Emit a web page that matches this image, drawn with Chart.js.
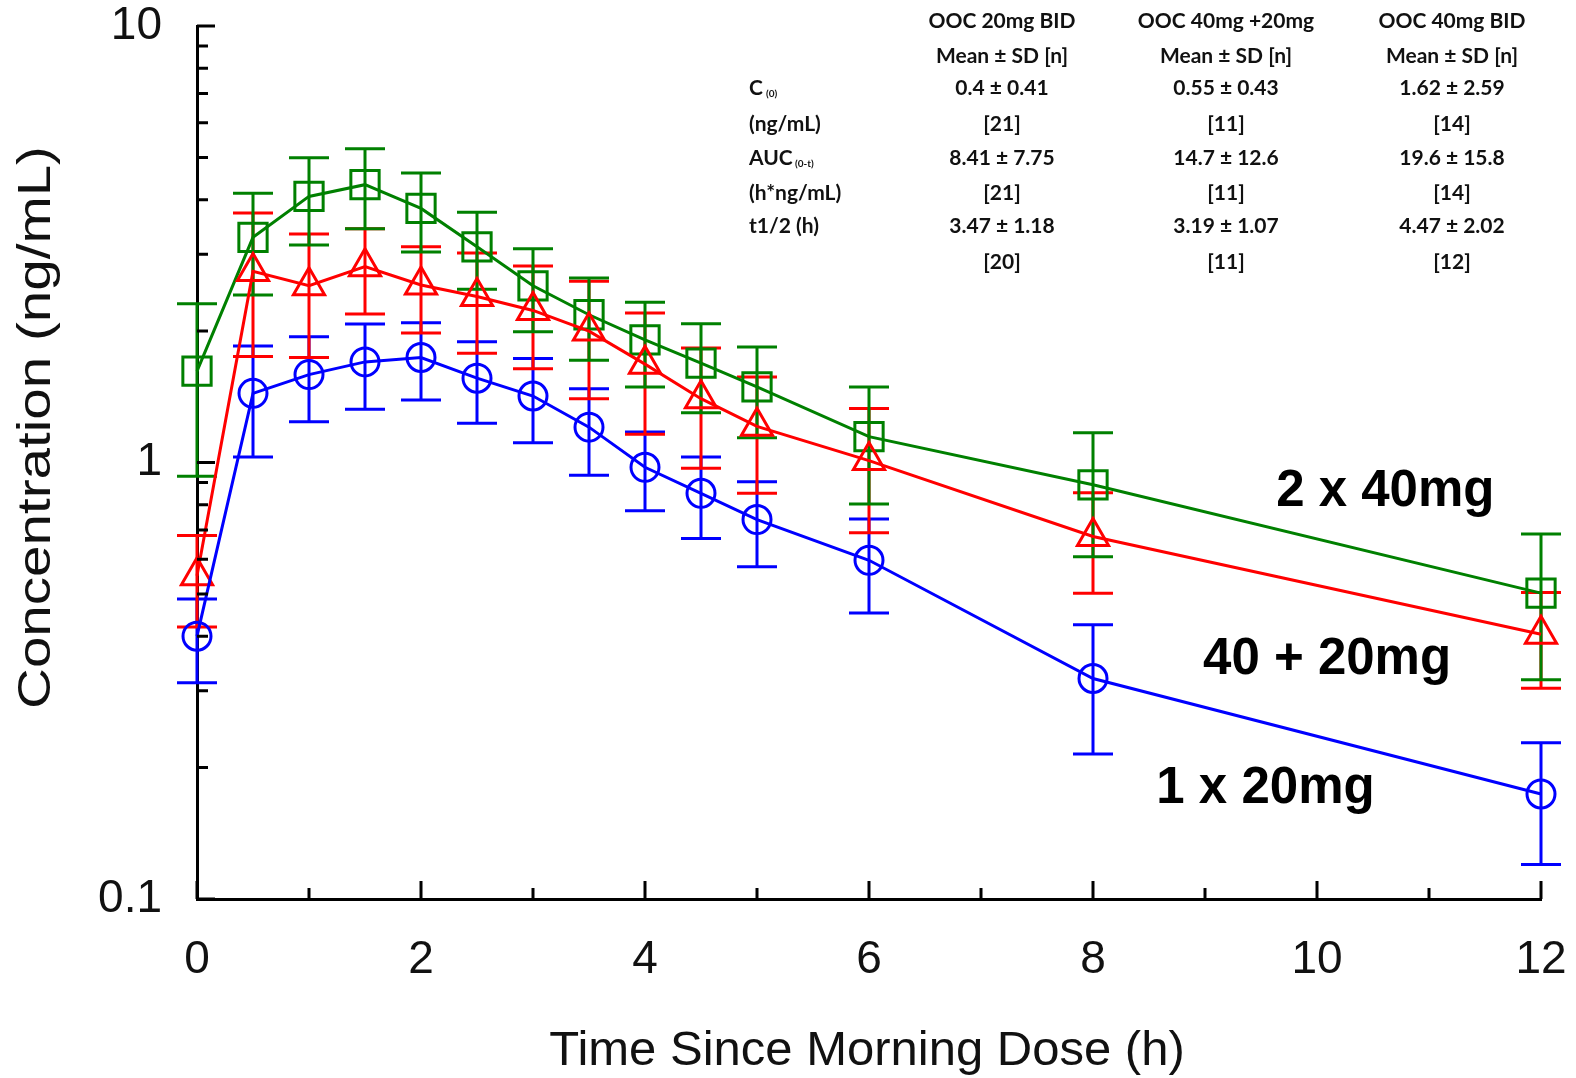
<!DOCTYPE html>
<html>
<head>
<meta charset="utf-8">
<script src="https://cdn.jsdelivr.net/npm/chart.js@4.4.0/dist/chart.umd.min.js"></script>
<style>
  html, body { margin: 0; padding: 0; background: #fff; }
  #wrap { width: 1576px; height: 1078px; }
</style>
</head>
<body>
<div id="wrap"><canvas id="chart" width="1576" height="1078"></canvas></div>
<script>
// Sampling times (h since morning dose)
const times = [0, 0.5, 1, 1.5, 2, 2.5, 3, 3.5, 4, 4.5, 5, 6, 8, 12];

// 1 x 20mg (blue circles): mean and SD (ng/mL)
const mean20 = [0.40, 1.44, 1.59, 1.70, 1.74, 1.56, 1.42, 1.205, 0.975, 0.85, 0.74, 0.597, 0.32, 0.174];
const sd20 = [0.087, 0.41, 0.35, 0.375, 0.35, 0.33, 0.31, 0.27, 0.20, 0.18, 0.163, 0.145, 0.105, 0.054];

// 40 + 20mg (red triangles)
const mean4020 = [0.55, 2.74, 2.54, 2.81, 2.55, 2.40, 2.23, 2.0, 1.68, 1.40, 1.21, 1.01, 0.677, 0.404];
const sd4020 = [0.13, 0.99, 0.80, 0.62, 0.57, 0.62, 0.59, 0.60, 0.52, 0.43, 0.36, 0.32, 0.175, 0.10];

// 2 x 40mg (green squares)
const mean40 = [1.62, 3.28, 4.07, 4.33, 3.82, 3.12, 2.54, 2.18, 1.91, 1.69, 1.49, 1.146, 0.889, 0.502];
const sd40 = [0.69, 0.86, 0.92, 0.90, 0.785, 0.626, 0.547, 0.465, 0.42, 0.39, 0.35, 0.343, 0.281, 0.184];

const seriesNames = ['1 x 20mg', '40 + 20mg', '2 x 40mg'];

// Axis ticks
const xTicks = [0, 2, 4, 6, 8, 10, 12];
const xMinorTicks = [1, 3, 5, 7, 9, 11];
const yTicks = [0.1, 1, 10];

// PK summary table
const tableCols = ['OOC 20mg BID', 'OOC 40mg +20mg', 'OOC 40mg BID'];
const c0Vals = ['0.4 \u00b1 0.41', '0.55 \u00b1 0.43', '1.62 \u00b1 2.59'];
const c0N = ['[21]', '[11]', '[14]'];
const aucVals = ['8.41 \u00b1 7.75', '14.7 \u00b1 12.6', '19.6 \u00b1 15.8'];
const aucN = ['[21]', '[11]', '[14]'];
const halfVals = ['3.47 \u00b1 1.18', '3.19 \u00b1 1.07', '4.47 \u00b1 2.02'];
const halfN = ['[20]', '[11]', '[12]'];

const FONT = '"Liberation Sans", Arial, sans-serif';

function toPoints(means) {
    return times.map((t, i) => ({ x: t, y: means[i] }));
}

function makeSet(name, means, sds, color, style, radius) {
    return {
        label: name,
        data: toPoints(means),
        sd: sds,
        borderColor: color,
        borderWidth: 3,
        pointStyle: style,
        pointRadius: radius,
        pointBorderWidth: 3,
        pointBorderColor: color,
        pointBackgroundColor: 'rgba(0,0,0,0)',
        tension: 0,
        clip: false
    };
}

// Error bars (mean +/- SD) drawn under the lines
const errorBars = {
    id: 'errorBars',
    beforeDatasetsDraw(chart) {
        const { ctx, scales: { x, y } } = chart;
        chart.data.datasets.forEach(ds => {
            ctx.save();
            ctx.strokeStyle = ds.borderColor;
            ctx.lineWidth = 3;
            ds.data.forEach((p, i) => {
                const px = x.getPixelForValue(p.x);
                const top = y.getPixelForValue(p.y + ds.sd[i]);
                const bot = y.getPixelForValue(Math.max(p.y - ds.sd[i], 0.01));
                ctx.beginPath();
                ctx.moveTo(px, top); ctx.lineTo(px, bot);
                ctx.moveTo(px - 20, top); ctx.lineTo(px + 20, top);
                ctx.moveTo(px - 20, bot); ctx.lineTo(px + 20, bot);
                ctx.stroke();
            });
            ctx.restore();
        });
    }
};

// Inward tick marks, axis titles, curve labels and the table
const decorations = {
    id: 'decorations',
    afterDraw(chart) {
        const { ctx, chartArea: a, scales: { x, y } } = chart;
        ctx.save();
        ctx.strokeStyle = '#000';
        ctx.lineWidth = 3;
        ctx.beginPath();
        xTicks.forEach(v => { const px = x.getPixelForValue(v); ctx.moveTo(px, a.bottom); ctx.lineTo(px, a.bottom - 18); });
        xMinorTicks.forEach(v => { const px = x.getPixelForValue(v); ctx.moveTo(px, a.bottom); ctx.lineTo(px, a.bottom - 11); });
        yTicks.forEach(v => { const py = y.getPixelForValue(v); ctx.moveTo(a.left, py); ctx.lineTo(a.left + 18, py); });
        [0.1, 1].forEach(d => {
            for (let k = 2; k <= 9; k++) {
                const py = y.getPixelForValue(d * k);
                ctx.moveTo(a.left, py); ctx.lineTo(a.left + 11, py);
            }
        });
        ctx.stroke();

        // axis titles
        ctx.fillStyle = '#111';
        ctx.font = '49px ' + FONT;
        ctx.textAlign = 'center';
        ctx.textBaseline = 'alphabetic';
        ctx.fillText('Time Since Morning Dose (h)', (a.left + a.right) / 2 - 2, a.bottom + 166);

        ctx.save();
        ctx.translate(37, (a.top + a.bottom) / 2 - 35);
        ctx.rotate(-Math.PI / 2);
        ctx.scale(1.23, 1);
        ctx.font = '46px ' + FONT;
        ctx.textBaseline = 'middle';
        ctx.fillText('Concentration (ng/mL)', 0, 0);
        ctx.restore();

        // curve labels
        ctx.font = 'bold 51px ' + FONT;
        ctx.fillStyle = '#000';
        ctx.textBaseline = 'middle';
        const labelAt = [[9.54, 0.179], [10.09, 0.353], [10.61, 0.856]];
        seriesNames.forEach((name, i) => {
            ctx.fillText(name, x.getPixelForValue(labelAt[i][0]), y.getPixelForValue(labelAt[i][1]));
        });

        // summary table
        const colX = [1002, 1226, 1452];
        const rowY = [21, 56, 88, 124, 158, 193, 226, 262];
        ctx.fillStyle = '#111';
        ctx.font = 'bold 21px Lato, "Open Sans", sans-serif';
        ctx.textAlign = 'center';
        const rows = [tableCols, tableCols.map(() => 'Mean \u00b1 SD [n]'), c0Vals, c0N, aucVals, aucN, halfVals, halfN];
        rows.forEach((row, r) => {
            row.forEach((txt, c) => ctx.fillText(txt, colX[c], rowY[r]));
        });

        ctx.textAlign = 'left';
        const lx = 749;
        ctx.fillText('C', lx, rowY[2]);
        ctx.fillText('(ng/mL)', lx, rowY[3]);
        ctx.fillText('AUC', lx, rowY[4]);
        ctx.fillText('(h*ng/mL)', lx, rowY[5]);
        ctx.fillText('t1/2 (h)', lx, rowY[6]);
        ctx.font = 'bold 10px Lato, "Open Sans", sans-serif';
        ctx.fillText('(0)', lx + 17, rowY[2] + 6);
        ctx.fillText('(0-t)', lx + 46, rowY[4] + 6);
        ctx.restore();
    }
};

new Chart(document.getElementById('chart').getContext('2d'), {
    type: 'line',
    data: {
        datasets: [
            makeSet(seriesNames[0], mean20, sd20, '#0000ff', 'circle', 14),
            makeSet(seriesNames[1], mean4020, sd4020, '#ff0000', 'triangle', 18),
            makeSet(seriesNames[2], mean40, sd40, '#008000', 'rect', 20)
        ]
    },
    options: {
        responsive: false,
        animation: false,
        layout: { padding: { top: 26, right: 35, left: 0, bottom: 0 } },
        plugins: { legend: { display: false }, tooltip: { enabled: false } },
        scales: {
            x: {
                type: 'linear',
                min: 0,
                max: 12,
                // fixed axis band, no extra label overflow padding
                afterFit(s) { s.height = 179; s.paddingLeft = 0; s.paddingRight = 0; },
                afterBuildTicks(s) { s.ticks = xTicks.map(v => ({ value: v })); },
                grid: { display: false },
                border: { display: true, color: '#000', width: 3 },
                ticks: { padding: 26, color: '#111', font: { size: 46, family: FONT }, maxRotation: 0 }
            },
            y: {
                type: 'logarithmic',
                min: 0.1,
                max: 10,
                afterFit(s) { s.width = 197; s.paddingTop = 0; s.paddingBottom = 0; },
                afterBuildTicks(s) { s.ticks = yTicks.map(v => ({ value: v })); },
                grid: { display: false },
                border: { display: true, color: '#000', width: 3 },
                ticks: { padding: 27, color: '#111', font: { size: 46, family: FONT, lineHeight: 1 }, callback: v => String(v) }
            }
        }
    },
    plugins: [errorBars, decorations]
});
</script>
</body>
</html>
